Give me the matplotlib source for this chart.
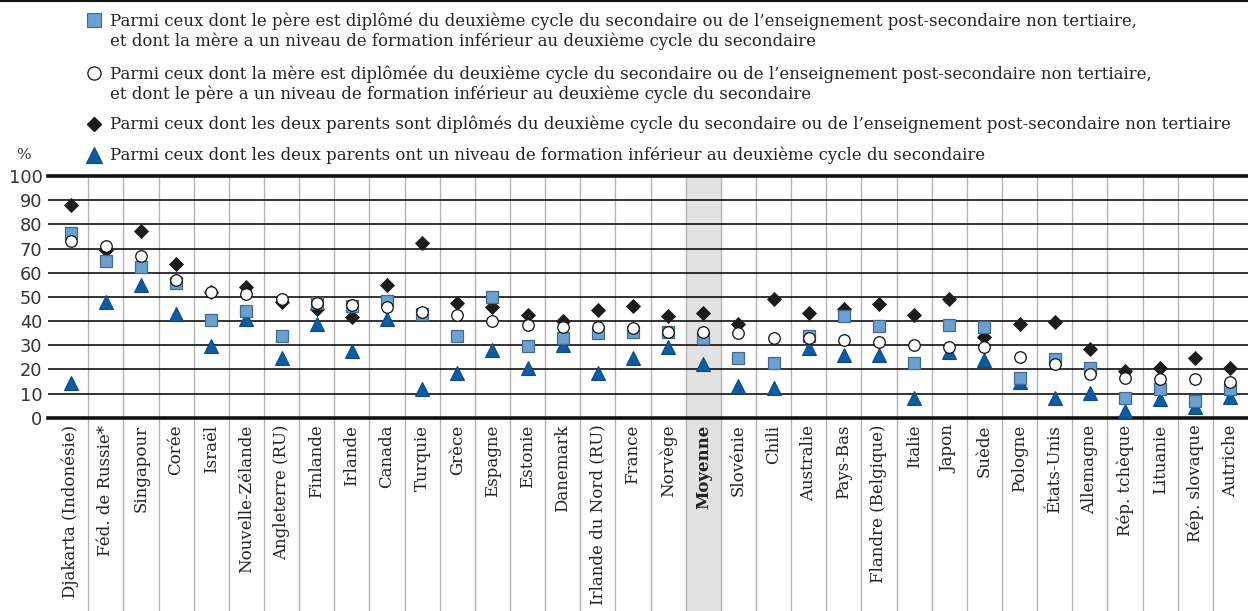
import numpy as np
import matplotlib.pyplot as plt
from matplotlib.lines import Line2D

# Données (%)
pays = ['Djakarta (Indonésie)', 'Féd. de Russie*', 'Singapour', 'Corée', 'Israël',
        'Nouvelle-Zélande', 'Angleterre (RU)', 'Finlande', 'Irlande', 'Canada',
        'Turquie', 'Grèce', 'Espagne', 'Estonie', 'Danemark', 'Irlande du Nord (RU)',
        'France', 'Norvège', 'Moyenne', 'Slovénie', 'Chili', 'Australie', 'Pays-Bas',
        'Flandre (Belgique)', 'Italie', 'Japon', 'Suède', 'Pologne', 'États-Unis',
        'Allemagne', 'Rép. tchèque', 'Lituanie', 'Rép. slovaque', 'Autriche']

pere_seul = [76.6, 64.8, 62.2, 55.6, 40.4, 44.3, 33.8, 47.3, 46.3, 48.4,
             42.9, 33.9, 50.0, 29.7, 32.8, 34.9, 35.6, 35.3, 33.1, 24.8,
             22.5, 33.8, 42.0, 37.9, 22.5, 38.3, 37.4, 16.3, 24.1, 20.4,
             8.0, 11.7, 7.0, 11.9]
mere_seule = [73.1, 71.0, 66.9, 57.0, 52.0, 51.2, 49.0, 47.3, 46.6, 45.7,
              43.9, 42.5, 39.9, 38.3, 37.4, 37.4, 37.0, 35.3, 35.3, 34.9,
              33.1, 32.8, 32.1, 31.4, 30.0, 29.4, 29.1, 25.0, 22.2, 17.9,
              16.3, 15.9, 15.9, 14.6]
deux_parents = [88.0, 69.4, 77.4, 63.6, 52.0, 54.2, 48.0, 45.0, 41.8, 54.9,
                72.4, 47.3, 45.9, 42.5, 40.0, 44.6, 46.3, 42.0, 43.4, 38.6,
                49.1, 43.4, 45.0, 46.9, 42.5, 49.0, 33.5, 38.6, 39.4, 28.4,
                19.3, 20.7, 24.6, 20.7]
aucun_parent = [14.5, 48.0, 54.9, 42.9, 29.8, 40.7, 24.6, 38.8, 27.7, 41.0,
                11.7, 18.3, 28.0, 20.4, 30.0, 18.6, 24.6, 29.1, 22.2, 13.1,
                12.4, 29.0, 25.9, 25.9, 8.0, 27.3, 23.9, 14.9, 8.0, 10.1,
                2.9, 7.6, 4.6, 8.7]

legende = [
    "Parmi ceux dont le père est diplômé du deuxième cycle du secondaire ou de l\u2019enseignement post-secondaire non tertiaire,\n"
    "et dont la mère a un niveau de formation inférieur au deuxième cycle du secondaire",
    "Parmi ceux dont la mère est diplômée du deuxième cycle du secondaire ou de l\u2019enseignement post-secondaire non tertiaire,\n"
    "et dont le père a un niveau de formation inférieur au deuxième cycle du secondaire",
    "Parmi ceux dont les deux parents sont diplômés du deuxième cycle du secondaire ou de l\u2019enseignement post-secondaire non tertiaire",
    "Parmi ceux dont les deux parents ont un niveau de formation inférieur au deuxième cycle du secondaire",
]

BLEU_CLAIR = '#6aa1d2'
BLEU = '#0b5ca7'
NOIR = '#1c1c1c'
SERIF = 'DejaVu Serif'

W, H = 1248, 611
fig = plt.figure(figsize=(W / 100, H / 100), dpi=100)
ax = fig.add_axes([48 / W, (H - 417.7) / H, 1200 / W, 241.7 / H])

x = np.arange(len(pays))
ax.set_xlim(-0.645, len(pays) - 0.5)
ax.set_ylim(0, 100)

# colonne Moyenne grisée, jusqu'en bas de la figure
bas = -(H - 417.7) / 241.7
i_moy = pays.index('Moyenne')
ax.fill_between([i_moy - 0.5, i_moy + 0.5], bas, 1, color='#e2e2e2',
                transform=ax.get_xaxis_transform(), clip_on=False, zorder=0, lw=0)

# séparateurs verticaux
ax.vlines(x[:-1] + 0.5, bas, 1, color='#b3b3b3', lw=1,
          transform=ax.get_xaxis_transform(), clip_on=False, zorder=1)

# lignes horizontales
for v in range(10, 100, 10):
    ax.axhline(v, color='#111111', lw=1.2, zorder=1)
ax.axhline(0, color='#111111', lw=2.6, zorder=2, clip_on=False)
ax.axhline(100, color='#111111', lw=2.6, zorder=2, clip_on=False)

for s in ax.spines.values():
    s.set_visible(False)

# points
ax.plot(x, aucun_parent, ls='none', marker='^', ms=10, mfc=BLEU, mec='#0a4a85', mew=0.8, zorder=3, clip_on=False)
ax.plot(x, deux_parents, ls='none', marker='D', ms=7.4, mfc=NOIR, mec=NOIR, mew=0.6, zorder=4)
ax.plot(x, pere_seul, ls='none', marker='s', ms=9.2, mfc=BLEU_CLAIR, mec='#46688a', mew=0.9, zorder=5)
ax.plot(x, mere_seule, ls='none', marker='o', ms=8.3, mfc='white', mec='#111111', mew=0.9, zorder=6)

# axes
ax.set_yticks(range(0, 101, 10))
ax.tick_params(axis='y', length=0, pad=4, labelsize=12.8, labelcolor='#333333')
ax.set_xticks(x)
ax.set_xticklabels(pays, rotation=90, fontsize=12, family=SERIF, va='top', ha='center')
ax.tick_params(axis='x', length=0, pad=5, labelcolor='#222222')
for lab in ax.get_xticklabels():
    if lab.get_text() == 'Moyenne':
        lab.set_fontweight('bold')

# légende
marqueurs = [
    dict(marker='s', ms=10, mfc=BLEU_CLAIR, mec='#46688a', mew=0.8),
    dict(marker='o', ms=9.5, mfc='white', mec='#111111', mew=0.9),
    dict(marker='D', ms=7.5, mfc=NOIR, mec=NOIR),
    dict(marker='^', ms=11, mfc=BLEU, mec='#0a4a85', mew=0.8),
]
y_leg = [31, 84, 124, 155]
for txt, m, yp in zip(legende, marqueurs, y_leg):
    yf = 1 - yp / H
    ym = 1 - (yp - 11) / H if '\n' in txt else yf
    fig.add_artist(Line2D([94 / W], [ym], transform=fig.transFigure, ls='none', **m))
    fig.text(110 / W, yf, txt, family=SERIF, fontsize=11.85, va='center', ha='left',
             color='#222222', linespacing=1.22)

fig.text(16 / W, 1 - 155 / H, '%', fontsize=11, family=SERIF, color='#333333', va='center')

# filet en haut de la figure
fig.add_artist(Line2D([0, 1], [1 - 1 / H, 1 - 1 / H], transform=fig.transFigure, color='#111111', lw=1.5))

fig.savefig('out.png', dpi=100)
